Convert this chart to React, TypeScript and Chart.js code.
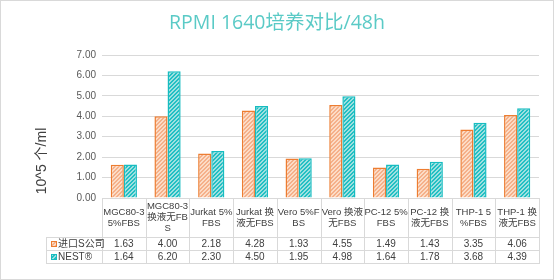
import React, { useEffect, useRef } from "react";
import { Chart, registerables } from "chart.js";

Chart.register(...registerables);

const categories: string[][] = [
  ["MGC80-3", "5%FBS"],
  ["MGC80-3", "换液无FB", "S"],
  ["Jurkat 5%", "FBS"],
  ["Jurkat 换", "液无FBS"],
  ["Vero 5%F", "BS"],
  ["Vero 换液", "无FBS"],
  ["PC-12 5%", "FBS"],
  ["PC-12 换", "液无FBS"],
  ["THP-1 5", "%FBS"],
  ["THP-1 换", "液无FBS"],
];
const seriesNames = ["进口S公司", "NEST®"];
const importS = [1.63, 4.0, 2.18, 4.28, 1.93, 4.55, 1.49, 1.43, 3.35, 4.06];
const nest = [1.64, 6.2, 2.3, 4.5, 1.95, 4.98, 1.64, 1.78, 3.68, 4.39];
const yTicks = [0, 1, 2, 3, 4, 5, 6, 7];
const titleText = "RPMI 1640培养对比/48h";
const yTitle = "10^5 个/ml";

const FONT = '"Liberation Sans", Arial, "Noto Sans CJK SC", sans-serif';

function makePattern(fg: string, bg: string): CanvasPattern | string {
  const c = document.createElement("canvas");
  c.width = 4;
  c.height = 4;
  const g = c.getContext("2d");
  if (!g) return fg;
  for (let x = 0; x < 4; x++) {
    for (let y = 0; y < 4; y++) {
      g.fillStyle = (x + y) % 4 < 2 ? fg : bg;
      g.fillRect(x, y, 1, 1);
    }
  }
  const p = g.createPattern(c, "repeat");
  return p || fg;
}

export default function App() {
  const ref = useRef<HTMLCanvasElement>(null);
  useEffect(() => {
    document.body.style.margin = "0";
    const canvas = ref.current;
    if (!canvas) return;
    const orangeFill = makePattern("#F5B08A", "#FCDCC6");
    const tealFill = makePattern("#22BFC3", "#9EE0E0");
    const orangeBorder = "#ED7D31";
    const tealBorder = "#17BCC0";

    const tablePlugin = {
      id: "tablePlugin",
      afterDraw(chart: any) {
        const ctx = chart.ctx as CanvasRenderingContext2D;
        const xs = chart.scales.x;
        const area = chart.chartArea;
        const n = categories.length;
        const w = (area.right - area.left) / n;
        ctx.save();
        // outer border
        ctx.strokeStyle = "#D9D9D9";
        ctx.lineWidth = 1;
        ctx.strokeRect(0.5, 0.5, chart.width - 1, chart.height - 1);

        // title
        ctx.fillStyle = "#5ACAC6";
        ctx.font = `19.5px "Open Sans", "Noto Sans CJK SC", sans-serif`;
        ctx.textAlign = "center";
        ctx.textBaseline = "middle";
        ctx.fillText(titleText, 277, 23);

        // y title
        ctx.save();
        ctx.translate(42, 161);
        ctx.rotate(-Math.PI / 2);
        ctx.fillStyle = "#404040";
        ctx.font = `14px ${FONT}`;
        ctx.fillText(yTitle, 0, 0);
        ctx.restore();

        // table
        const top = area.bottom;
        const headBottom = 237;
        const r1 = 250;
        const r2 = 263;
        const legLeft = 46;
        ctx.strokeStyle = "#D9D9D9";
        ctx.beginPath();
        for (let i = 0; i <= n; i++) {
          const x = Math.round(area.left + i * w) + 0.5;
          ctx.moveTo(x, top);
          ctx.lineTo(x, r2);
        }
        ctx.moveTo(legLeft + 0.5, headBottom);
        ctx.lineTo(legLeft + 0.5, r2);
        [headBottom, r1, r2].forEach((y) => {
          ctx.moveTo(legLeft, y + 0.5);
          ctx.lineTo(area.right + 1, y + 0.5);
        });
        ctx.stroke();

        ctx.fillStyle = "#404040";
        ctx.textAlign = "center";
        ctx.textBaseline = "middle";
        const headMid = (top + headBottom) / 2;
        categories.forEach((lines, i) => {
          const cx = xs.getPixelForValue(i);
          const lh = 11;
          const start = headMid - ((lines.length - 1) * lh) / 2;
          ctx.font = `9.5px ${FONT}`;
          lines.forEach((ln, j) => ctx.fillText(ln, cx, start + j * lh));
          ctx.font = `10px ${FONT}`;
          ctx.fillText(importS[i].toFixed(2), cx, (headBottom + r1) / 2 + 0.5);
          ctx.fillText(nest[i].toFixed(2), cx, (r1 + r2) / 2 + 0.5);
        });
        // legend cells
        const rows = [
          { y: (headBottom + r1) / 2, fill: orangeFill, border: orangeBorder, name: seriesNames[0] },
          { y: (r1 + r2) / 2, fill: tealFill, border: tealBorder, name: seriesNames[1] },
        ];
        ctx.font = `10px ${FONT}`;
        rows.forEach((r) => {
          ctx.fillStyle = r.fill as any;
          ctx.fillRect(51, Math.round(r.y) - 3, 6, 6);
          ctx.strokeStyle = r.border;
          ctx.strokeRect(51.5, Math.round(r.y) - 2.5, 5, 5);
          ctx.fillStyle = "#404040";
          ctx.textAlign = "left";
          ctx.fillText(r.name, 58, r.y + 0.5);
        });
        ctx.restore();
      },
    };

    const chart = new Chart(canvas, {
      type: "bar",
      data: {
        labels: categories,
        datasets: [
          {
            label: seriesNames[0],
            data: importS,
            backgroundColor: orangeFill as any,
            borderColor: orangeBorder,
            borderWidth: 1.5,
            categoryPercentage: 0.6,
            barPercentage: 1,
          },
          {
            label: seriesNames[1],
            data: nest,
            backgroundColor: tealFill as any,
            borderColor: tealBorder,
            borderWidth: 1.5,
            categoryPercentage: 0.6,
            barPercentage: 1,
          },
        ],
      },
      options: {
        animation: false,
        responsive: false,
        layout: { padding: { top: 55, right: 15, left: 0, bottom: 0 } },
        plugins: {
          legend: { display: false },
          title: { display: false },
          tooltip: { enabled: false },
        },
        scales: {
          x: {
            ticks: { display: false },
            grid: { display: false },
            border: { display: false },
            afterFit: (s: any) => {
              s.height = 82;
            },
          },
          y: {
            min: 0,
            max: 7,
            afterBuildTicks: (s: any) => {
              s.ticks = yTicks.map((v) => ({ value: v }));
            },
            ticks: {
              padding: 6,
              color: "#595959",
              font: { family: FONT, size: 10 },
              callback: (v: any) => Number(v).toFixed(2),
            },
            grid: { color: "#D9D9D9", lineWidth: 1, drawTicks: false },
            border: { display: false },
            afterFit: (s: any) => {
              s.width = 102;
            },
          },
        },
      },
      plugins: [tablePlugin],
    });
    return () => chart.destroy();
  }, []);
  return (
    <canvas
      ref={ref}
      width={554}
      height={280}
      style={{ display: "block", width: 554, height: 280 }}
    />
  );
}
